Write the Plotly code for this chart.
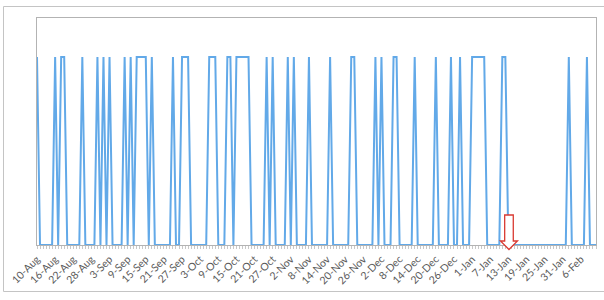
import plotly.graph_objects as go

# ---- data ----
n_days = 186  # daily points, 10-Aug ... 11-Feb
active_days = [0, 6, 8, 9, 15, 20, 22, 24, 29, 31, 33, 34, 35, 36, 38, 45,
               48, 49, 50, 57, 58, 59, 63, 64, 66, 67, 68, 69, 70, 76, 78,
               83, 85, 90, 97, 104, 105, 112, 114, 118, 119, 125, 132, 137,
               140, 144, 145, 146, 147, 148, 154, 155, 176, 182]
tick_days = list(range(0, 181, 6))
tick_labels = ["10-Aug", "16-Aug", "22-Aug", "28-Aug", "3-Sep", "9-Sep", "15-Sep",
               "21-Sep", "27-Sep", "3-Oct", "9-Oct", "15-Oct", "21-Oct", "27-Oct",
               "2-Nov", "8-Nov", "14-Nov", "20-Nov", "26-Nov", "2-Dec", "8-Dec",
               "14-Dec", "20-Dec", "26-Dec", "1-Jan", "7-Jan", "13-Jan", "19-Jan",
               "25-Jan", "31-Jan", "6-Feb"]
arrow_day = 156  # 13-Jan

days = list(range(n_days))
values = [1 if d in active_days else 0 for d in days]

# ---- layout geometry ----
W, H = 604, 300
L, R, T, B = 37, 8, 18, 55
pw, ph = W - L - R, H - T - B


def px_x(px):
    return (px - L) / pw


def px_y(py):
    return (H - B - py) / ph


fig = go.Figure()
fig.add_trace(go.Scatter(
    x=days, y=values, mode="lines",
    line=dict(color="#62a9e8", width=2),
    hoverinfo="skip", showlegend=False,
))

# red outlined down arrow (x in data units, y in paper units)
dpp = (n_days - 1) / pw  # days per pixel
sw, hw = 4.3 * dpp, 8.5 * dpp
a = arrow_day + 0.2
y_top, y_head, y_tip = px_y(215), px_y(241), px_y(249.5)
arrow_path = (f"M {a - sw} {y_top} L {a + sw} {y_top} L {a + sw} {y_head} "
              f"L {a + hw} {y_head} L {a} {y_tip} L {a - hw} {y_head} "
              f"L {a - sw} {y_head} Z")
fig.add_shape(type="path", path=arrow_path, xref="x", yref="paper",
              line=dict(color="#d93a32", width=1.3), fillcolor="white",
              layer="above")

# outer chart frame
fig.add_shape(type="rect", xref="paper", yref="paper",
              x0=px_x(3.5), x1=px_x(640), y0=px_y(291.5), y1=px_y(6.5),
              line=dict(color="#c4c4c4", width=1), fillcolor="rgba(0,0,0,0)")

fig.update_layout(
    width=W, height=H,
    margin=dict(l=L, r=R, t=T, b=B),
    paper_bgcolor="white", plot_bgcolor="white",
    font=dict(family="Lato, Open Sans, sans-serif", size=10.5, color="#595959"),
    xaxis=dict(
        range=[0, n_days - 1], tickmode="array", tickvals=tick_days,
        ticktext=tick_labels, tickangle=-45, showgrid=False, zeroline=False,
        showline=True, linecolor="#b3b3b3", linewidth=1, mirror=True,
        ticks="outside", ticklen=3, tickcolor="#c8c8c8",
        minor=dict(tickmode="linear", tick0=0, dtick=1, ticks="outside",
                   ticklen=3, tickcolor="#c8c8c8", showgrid=False),
        tickfont=dict(size=10.5, color="#5a5a5a"),
    ),
    yaxis=dict(
        range=[0, 1.207], showticklabels=False, showgrid=False, zeroline=False,
        showline=True, linecolor="#b3b3b3", linewidth=1, mirror=True,
        ticks="",
    ),
)

fig.write_html("out.html")
